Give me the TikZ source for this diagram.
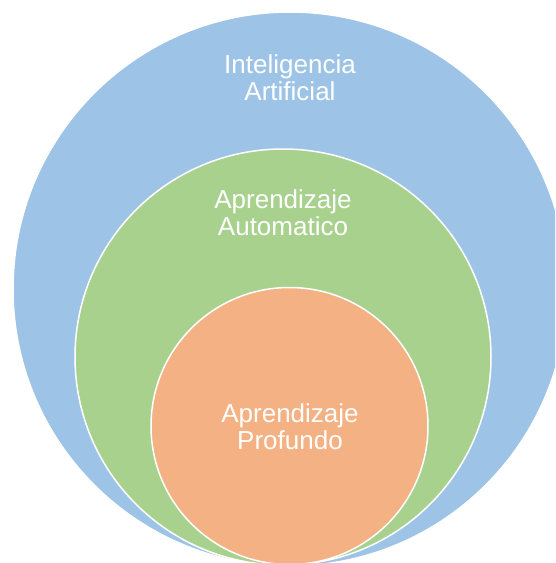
\documentclass[tikz,border=0pt]{standalone}
\usepackage{fontspec}
\setmainfont{Liberation Sans}
\definecolor{iablue}{HTML}{9DC3E6}
\definecolor{aagreen}{HTML}{A9D18E}
\definecolor{aporange}{HTML}{F4B183}
\begin{document}
\begin{tikzpicture}[x=1pt,y=-1pt,
    disc/.style={circle, draw=white, line width=1.5pt, inner sep=0pt},
    lbl/.style={text=white, align=center, anchor=base,
        font=\fontsize{26}{27}\selectfont}]
    \useasboundingbox (0,0) rectangle (555,563);
    \clip (0,0) rectangle (555,563);
    \node[disc, fill=iablue, minimum size=554pt] (ia) at (290,289) {};
    \node[disc, fill=aagreen, minimum size=416pt] (aa) at (283,357) {};
    \node[disc, fill=aporange, minimum size=277pt] (ap) at (289.5,426) {};
    \node[lbl] (tia) at (290,100) {Inteligencia\\Artificial};
    \node[lbl] (taa) at (283,235) {Aprendizaje\\Automatico};
    \node[lbl] (tap) at (290,449) {Aprendizaje\\Profundo};
\end{tikzpicture}
\end{document}
